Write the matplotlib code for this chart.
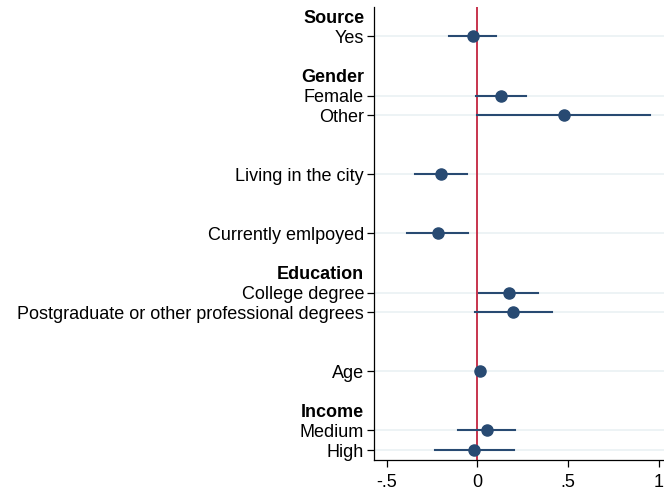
import numpy as np
import matplotlib
matplotlib.use('Agg')
import matplotlib.pyplot as plt

plt.rcParams['font.family'] = ['Liberation Sans', 'DejaVu Sans']

# rows (top to bottom), headers are bold and have no estimate
labels = ['Source', 'Yes', 'Gender', 'Female', 'Other', 'Living in the city',
          'Currently emlpoyed', 'Education', 'College degree',
          'Postgraduate or other professional degrees', 'Age', 'Income',
          'Medium', 'High']
row_pos = [0, 1, 3, 4, 5, 8, 11, 13, 14, 15, 18, 20, 21, 22]
is_header = [True, False, True, False, False, False, False, True, False,
             False, False, True, False, False]

# coefficient estimates and 95% CI (None for header rows)
coef = [None, -0.026, None, 0.13, 0.476, -0.202, -0.22, None, 0.173, 0.197,
        0.015, None, 0.051, -0.018]
ci_lo = [None, -0.156, None, -0.007, 0.0, -0.345, -0.39, None, 0.01, -0.013,
         0.005, None, -0.105, -0.237]
ci_hi = [None, 0.105, None, 0.268, 0.955, -0.057, -0.053, None, 0.332, 0.41,
         0.025, None, 0.208, 0.2]

xticks = [-0.5, 0, 0.5, 1]
xticklabels = ['-.5', '0', '.5', '1']

navy = '#284a72'

fig = plt.figure(figsize=(6.64, 4.93), dpi=100)
ax = fig.add_axes([0.563, 0.067, 0.437, 0.919])

for i in range(len(labels)):
    if is_header[i]:
        continue
    y = row_pos[i]
    ax.axhline(y, color='#eaf1f4', lw=1.2, zorder=0)
    ax.plot([ci_lo[i], ci_hi[i]], [y, y], color=navy, lw=1.5, zorder=2)
    ax.plot(coef[i], y, 'o', color=navy, ms=8, zorder=3)

ax.axvline(0, color='#c3243f', lw=1.3, zorder=1)

ax.set_ylim(22.5, -0.5)
ax.set_xlim(-0.572, 1.03)
ax.set_yticks(row_pos)
ax.set_yticklabels(labels, fontsize=13)
for tl, tk, h in zip(ax.get_yticklabels(), ax.yaxis.get_major_ticks(), is_header):
    if h:
        tl.set_fontweight('bold')
        tk.tick1line.set_visible(False)
ax.set_xticks(xticks)
ax.set_xticklabels(xticklabels, fontsize=13)
ax.tick_params(axis='both', length=5, width=0.9, color='black')
ax.tick_params(axis='y', pad=2)
ax.tick_params(axis='x', pad=5)
for s in ['top', 'right']:
    ax.spines[s].set_visible(False)
for s in ['left', 'bottom']:
    ax.spines[s].set_linewidth(0.9)

fig.savefig('out.png', dpi=100)
